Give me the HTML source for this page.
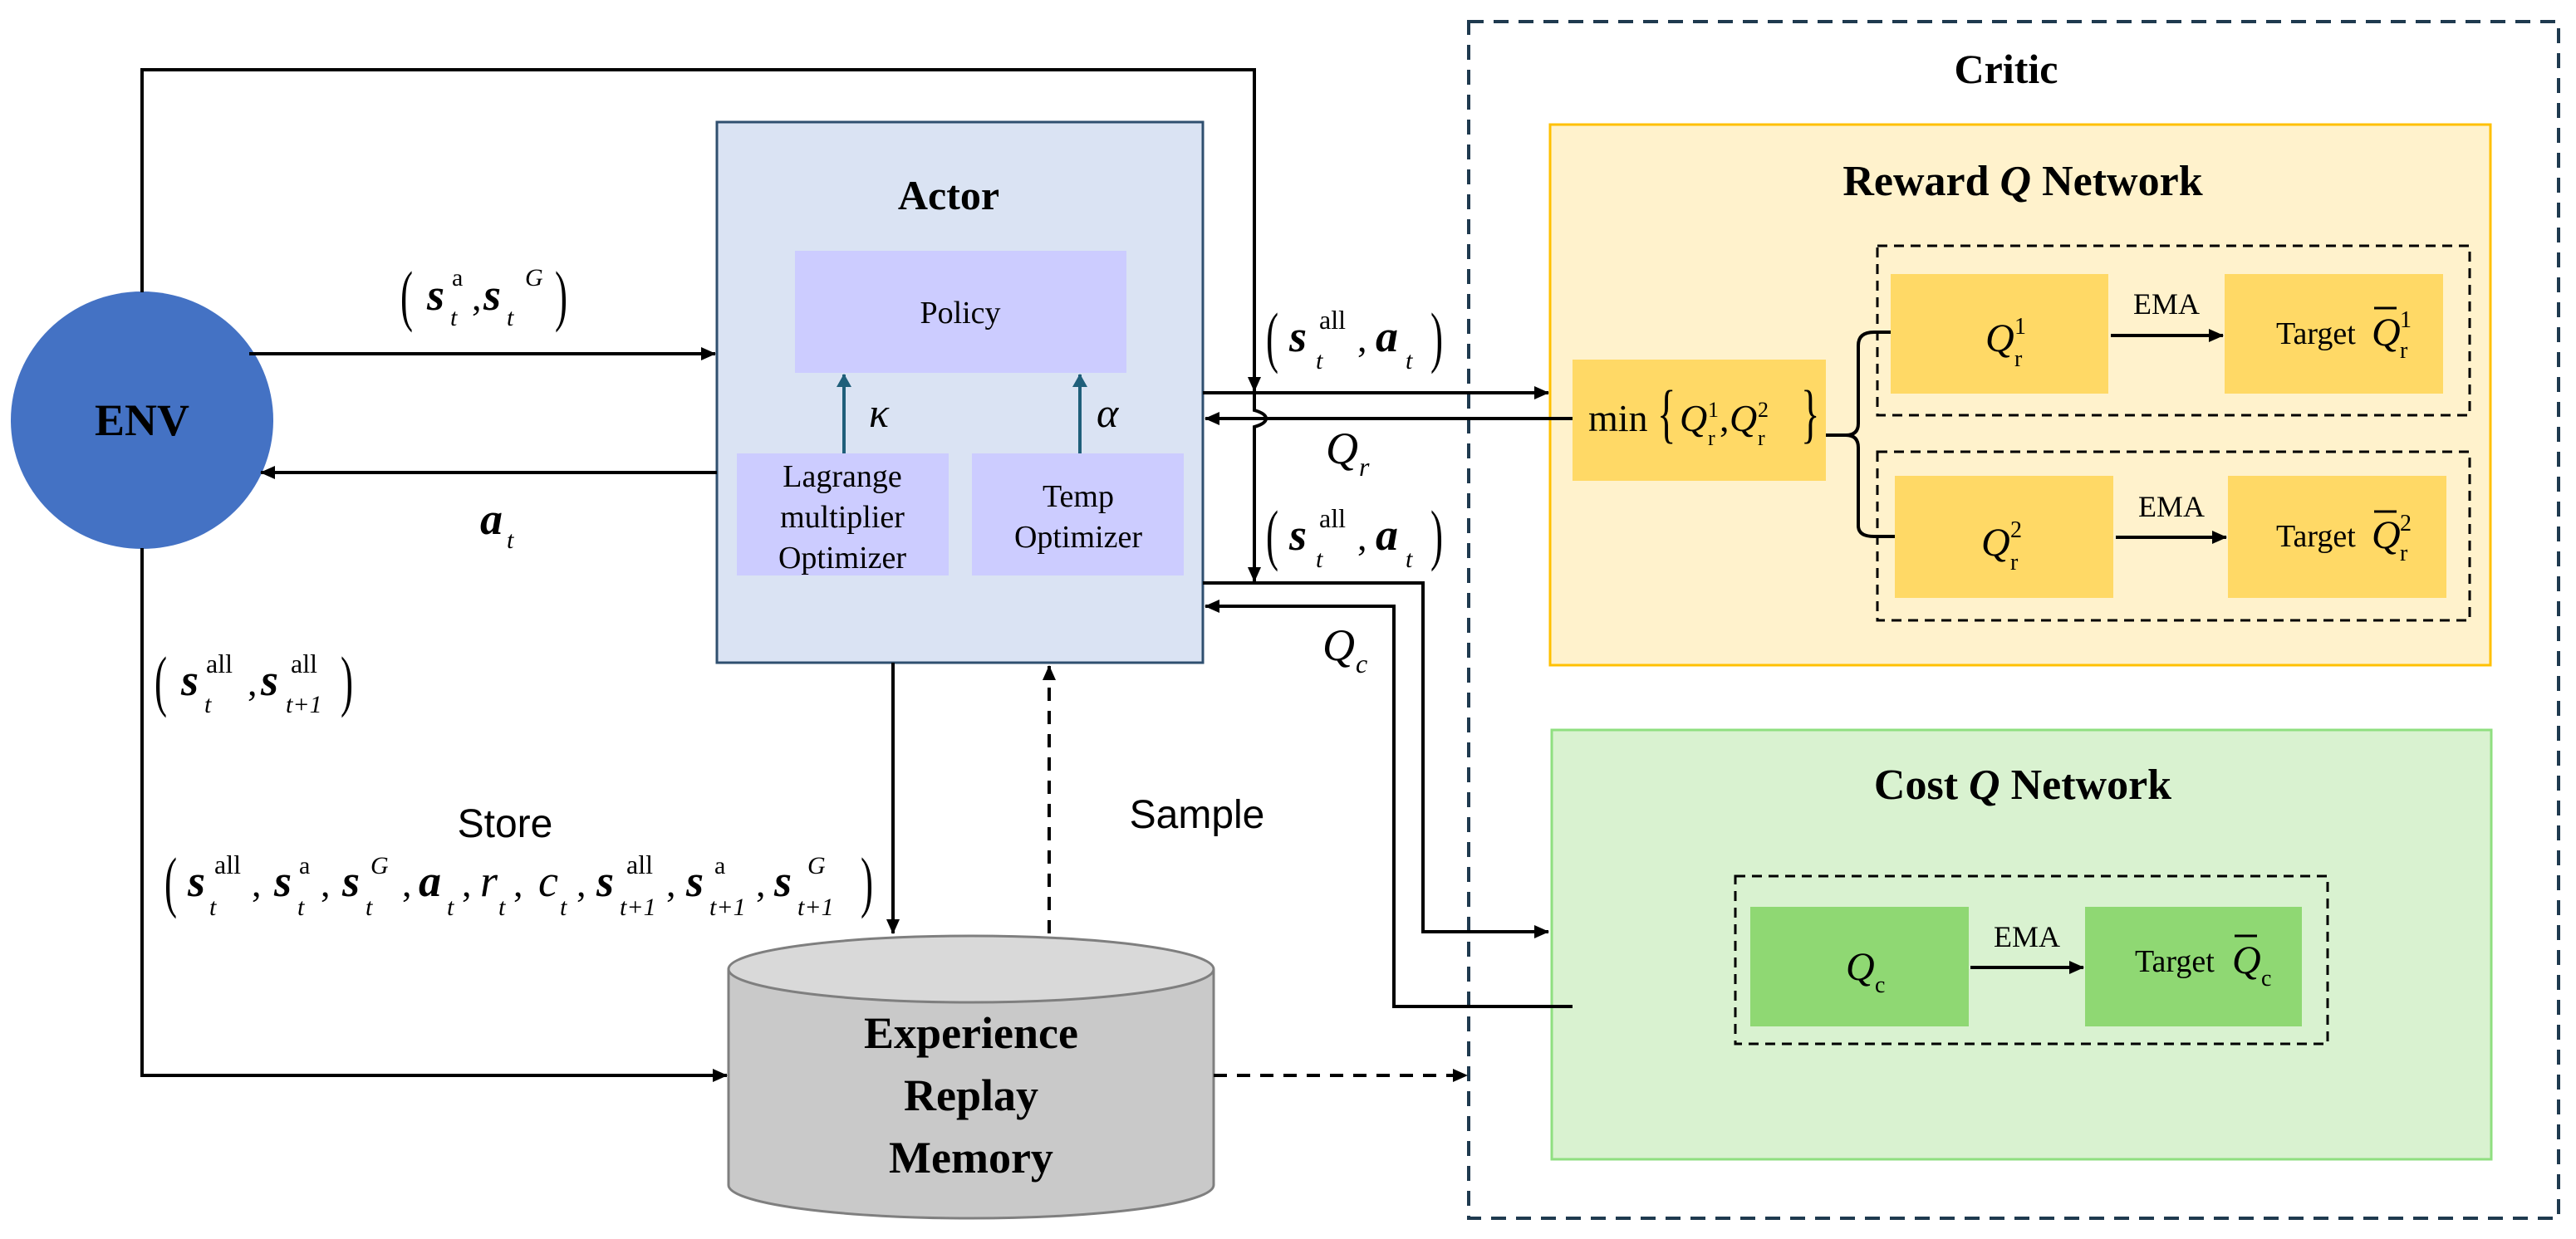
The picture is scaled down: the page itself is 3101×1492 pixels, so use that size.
<!DOCTYPE html>
<html><head><meta charset="utf-8"><style>
html,body{margin:0;padding:0;background:#fff;}
svg{display:block;}
.serif{font-family:"Liberation Serif",serif;}
.b{font-weight:bold;}
.m{font-family:"Liberation Serif",serif;font-style:italic;}
</style></head><body>
<svg width="3101" height="1492" viewBox="0 0 3101 1492" xmlns="http://www.w3.org/2000/svg">
<defs>
<marker id="arb" markerWidth="18" markerHeight="16" refX="17" refY="8" orient="auto" markerUnits="userSpaceOnUse" viewBox="0 0 18 16"><path d="M0,0 L18,8 L0,16 z" fill="#000"/></marker>
<marker id="art" markerWidth="16" markerHeight="18" refX="15" refY="9" orient="auto" markerUnits="userSpaceOnUse" viewBox="0 0 16 18"><path d="M0,0 L16,9 L0,18 z" fill="#1f5f7a"/></marker>
</defs>

<!-- Critic dashed container -->
<rect x="1768" y="26" width="1312" height="1441" fill="none" stroke="#1f3a4f" stroke-width="4" stroke-dasharray="18,12"/>
<text x="2415" y="100" text-anchor="middle" class="serif b" font-size="50">Critic</text>

<!-- Reward box -->
<rect x="1866" y="150" width="1132" height="651" fill="#fff2cc" stroke="#ffc000" stroke-width="3"/>
<text x="2435" y="235" text-anchor="middle" class="serif b" font-size="52">Reward <tspan font-style="italic">Q</tspan> Network</text>
<rect x="2260" y="296" width="713" height="204" fill="none" stroke="#000" stroke-width="3" stroke-dasharray="12,8"/>
<rect x="2260" y="544" width="713" height="203" fill="none" stroke="#000" stroke-width="3" stroke-dasharray="12,8"/>
<rect x="1893" y="433" width="305" height="146" fill="#ffd966"/>
<rect x="2276" y="330" width="262" height="144" fill="#ffd966"/>
<rect x="2678" y="330" width="263" height="144" fill="#ffd966"/>
<rect x="2281" y="573" width="263" height="147" fill="#ffd966"/>
<rect x="2682" y="573" width="263" height="147" fill="#ffd966"/>
<text x="1912" y="519" class="serif" font-size="46">min</text>
<text x="1995" y="524" class="serif" font-size="78" transform="translate(1995,524) scale(0.6,1) translate(-1995,-524)">{</text>
<text x="2022" y="519" class="m" font-size="46">Q</text><text x="2056" y="502" class="serif" font-size="26">1</text><text x="2056" y="536" class="serif" font-size="26">r</text>
<text x="2070" y="519" class="serif" font-size="46">,</text>
<text x="2082" y="519" class="m" font-size="46">Q</text><text x="2116" y="502" class="serif" font-size="26">2</text><text x="2116" y="536" class="serif" font-size="26">r</text>
<text x="2168" y="524" class="serif" font-size="78" transform="translate(2168,524) scale(0.6,1) translate(-2168,-524)">}</text>
<text x="2390" y="423" class="m" font-size="48">Q</text><text x="2425" y="402" class="serif" font-size="28">1</text><text x="2425" y="441" class="serif" font-size="28">r</text>
<text x="2740" y="414" class="serif" font-size="38">Target</text>
<text x="2855" y="416" class="m" font-size="48">Q</text><line x1="2858" y1="371" x2="2885" y2="371" stroke="#000" stroke-width="3"/><text x="2889" y="394" class="serif" font-size="28">1</text><text x="2889" y="431" class="serif" font-size="28">r</text>
<text x="2385" y="669" class="m" font-size="48">Q</text><text x="2420" y="647" class="serif" font-size="28">2</text><text x="2420" y="686" class="serif" font-size="28">r</text>
<text x="2740" y="658" class="serif" font-size="38">Target</text>
<text x="2855" y="660" class="m" font-size="48">Q</text><line x1="2858" y1="616" x2="2885" y2="616" stroke="#000" stroke-width="3"/><text x="2889" y="639" class="serif" font-size="28">2</text><text x="2889" y="675" class="serif" font-size="28">r</text>
<text x="2608" y="378" text-anchor="middle" class="serif" font-size="36">EMA</text>
<line x1="2541" y1="404" x2="2676" y2="404" stroke="#000" stroke-width="4" marker-end="url(#arb)"/>
<text x="2614" y="622" text-anchor="middle" class="serif" font-size="36">EMA</text>
<line x1="2547" y1="647" x2="2680" y2="647" stroke="#000" stroke-width="4" marker-end="url(#arb)"/>
<path d="M2198,524 H2222 Q2237,524 2237,510 V416 Q2237,400 2256,400 H2276" fill="none" stroke="#000" stroke-width="4"/>
<path d="M2222,524 Q2237,524 2237,539 V633 Q2237,646 2256,646 H2281" fill="none" stroke="#000" stroke-width="4"/>

<!-- Cost box -->
<rect x="1868" y="879" width="1131" height="517" fill="#d9f2d0" stroke="#8fdf80" stroke-width="3"/>
<text x="2435" y="962" text-anchor="middle" class="serif b" font-size="52">Cost <tspan font-style="italic">Q</tspan> Network</text>
<rect x="2089" y="1055" width="713" height="202" fill="none" stroke="#000" stroke-width="3" stroke-dasharray="12,8"/>
<rect x="2107" y="1092" width="263" height="144" fill="#8fd873"/>
<rect x="2510" y="1092" width="261" height="144" fill="#8fd873"/>
<text x="2222" y="1180" class="m" font-size="48">Q</text><text x="2257" y="1195" class="serif" font-size="28">c</text>
<text x="2570" y="1170" class="serif" font-size="38">Target</text>
<text x="2687" y="1172" class="m" font-size="48">Q</text><line x1="2690" y1="1127" x2="2717" y2="1127" stroke="#000" stroke-width="3"/><text x="2722" y="1187" class="serif" font-size="28">c</text>
<text x="2440" y="1140" text-anchor="middle" class="serif" font-size="36">EMA</text>
<line x1="2372" y1="1165" x2="2508" y2="1165" stroke="#000" stroke-width="4" marker-end="url(#arb)"/>

<!-- Actor -->
<rect x="863" y="147" width="585" height="651" fill="#dae3f3" stroke="#2f4f6f" stroke-width="3"/>
<text x="1142" y="252" text-anchor="middle" class="serif b" font-size="50">Actor</text>
<rect x="957" y="302" width="399" height="147" fill="#ccccff"/>
<text x="1156" y="389" text-anchor="middle" class="serif" font-size="38">Policy</text>
<rect x="887" y="546" width="255" height="147" fill="#ccccff"/>
<rect x="1170" y="546" width="255" height="147" fill="#ccccff"/>
<text x="1014" y="586" text-anchor="middle" class="serif" font-size="38">Lagrange</text>
<text x="1014" y="635" text-anchor="middle" class="serif" font-size="38">multiplier</text>
<text x="1014" y="684" text-anchor="middle" class="serif" font-size="38">Optimizer</text>
<text x="1298" y="610" text-anchor="middle" class="serif" font-size="38">Temp</text>
<text x="1298" y="659" text-anchor="middle" class="serif" font-size="38">Optimizer</text>
<line x1="1016" y1="546" x2="1016" y2="451" stroke="#1f5f7a" stroke-width="4" marker-end="url(#art)"/>
<line x1="1300" y1="546" x2="1300" y2="451" stroke="#1f5f7a" stroke-width="4" marker-end="url(#art)"/>
<text x="1046" y="514" class="m" font-size="50">κ</text>
<text x="1320" y="514" class="m" font-size="50">α</text>

<!-- ENV -->
<ellipse cx="171" cy="506" rx="158" ry="155" fill="#4472c4"/>
<text x="171" y="524" text-anchor="middle" class="serif b" font-size="54">ENV</text>

<!-- Cylinder -->
<path d="M877,1167 V1427 A292,40 0 0 0 1461,1427 V1167" fill="#c9c9c9" stroke="#7f7f7f" stroke-width="3"/>
<ellipse cx="1169" cy="1167" rx="292" ry="40" fill="#d9d9d9" stroke="#7f7f7f" stroke-width="3"/>
<text x="1169" y="1262" text-anchor="middle" class="serif b" font-size="54">Experience</text>
<text x="1169" y="1337" text-anchor="middle" class="serif b" font-size="54">Replay</text>
<text x="1169" y="1412" text-anchor="middle" class="serif b" font-size="54">Memory</text>

<!-- Connectors -->
<polyline points="171,352 171,84 1510,84 1510,471" fill="none" stroke="#000" stroke-width="4" marker-end="url(#arb)"/>
<path d="M1510,471 V494 Q1524,498 1524,504 Q1524,510 1510,514 V700" fill="none" stroke="#000" stroke-width="4" marker-end="url(#arb)"/>
<line x1="300" y1="426" x2="861" y2="426" stroke="#000" stroke-width="4" marker-end="url(#arb)"/>
<line x1="863" y1="569" x2="314" y2="569" stroke="#000" stroke-width="4" marker-end="url(#arb)"/>
<polyline points="171,660 171,1295 875,1295" fill="none" stroke="#000" stroke-width="4" marker-end="url(#arb)"/>
<line x1="1075" y1="798" x2="1075" y2="1124" stroke="#000" stroke-width="4" marker-end="url(#arb)"/>
<line x1="1263" y1="1124" x2="1263" y2="802" stroke="#000" stroke-width="4" stroke-dasharray="16,12" marker-end="url(#arb)"/>
<line x1="1461" y1="1295" x2="1766" y2="1295" stroke="#000" stroke-width="4" stroke-dasharray="16,12" marker-end="url(#arb)"/>
<line x1="1448" y1="473" x2="1864" y2="473" stroke="#000" stroke-width="4" marker-end="url(#arb)"/>
<line x1="1893" y1="504" x2="1451" y2="504" stroke="#000" stroke-width="4" marker-end="url(#arb)"/>
<polyline points="1448,702 1713,702 1713,1122 1864,1122" fill="none" stroke="#000" stroke-width="4" marker-end="url(#arb)"/>
<polyline points="1893,1212 1678,1212 1678,730 1451,730" fill="none" stroke="#000" stroke-width="4" marker-end="url(#arb)"/>

<!-- Labels -->
<text x="1441" y="997" text-anchor="middle" font-size="48" style="font-family:'Liberation Sans',sans-serif">Sample</text>
<text x="608" y="1008" text-anchor="middle" font-size="48" style="font-family:'Liberation Sans',sans-serif">Store</text>
<g class="serif">
<!-- (s_t^a, s_t^G) -->
<text x="482" y="383" font-size="82" transform="translate(482,383) scale(0.55,1) translate(-482,-383)">(</text>
<text x="514" y="373" class="m b" font-size="54">s</text><text x="544" y="344" font-size="30">a</text><text x="542" y="392" class="m" font-size="30">t</text>
<text x="568" y="373" font-size="46">,</text>
<text x="582" y="373" class="m b" font-size="54">s</text><text x="632" y="344" class="m" font-size="30">G</text><text x="610" y="392" class="m" font-size="30">t</text>
<text x="668" y="383" font-size="82" transform="translate(668,383) scale(0.55,1) translate(-668,-383)">)</text>
<!-- a_t -->
<text x="578" y="643" class="m b" font-size="54">a</text><text x="610" y="660" class="m" font-size="30">t</text>
<!-- (s_t^all, s_t+1^all) -->
<text x="186" y="847" font-size="82" transform="translate(186,847) scale(0.55,1) translate(-186,-847)">(</text>
<text x="218" y="837" class="m b" font-size="54">s</text><text x="248" y="810" font-size="32">all</text><text x="246" y="858" class="m" font-size="30">t</text>
<text x="298" y="837" font-size="46">,</text>
<text x="314" y="837" class="m b" font-size="54">s</text><text x="350" y="810" font-size="32">all</text><text x="344" y="858" class="m" font-size="30">t+1</text>
<text x="410" y="847" font-size="82" transform="translate(410,847) scale(0.55,1) translate(-410,-847)">)</text>
<!-- store tuple -->
<text x="198" y="1089" font-size="82" transform="translate(198,1089) scale(0.55,1) translate(-198,-1089)">(</text>
<text x="226" y="1079" class="m b" font-size="54">s</text><text x="258" y="1052" font-size="32">all</text><text x="252" y="1102" class="m" font-size="30">t</text>
<text x="303" y="1079" font-size="46">,</text>
<text x="330" y="1079" class="m b" font-size="54">s</text><text x="360" y="1052" font-size="30">a</text><text x="358" y="1102" class="m" font-size="30">t</text>
<text x="386" y="1079" font-size="46">,</text>
<text x="412" y="1079" class="m b" font-size="54">s</text><text x="446" y="1052" class="m" font-size="30">G</text><text x="440" y="1102" class="m" font-size="30">t</text>
<text x="484" y="1079" font-size="46">,</text>
<text x="504" y="1079" class="m b" font-size="54">a</text><text x="538" y="1102" class="m" font-size="30">t</text>
<text x="556" y="1079" font-size="46">,</text>
<text x="578" y="1079" class="m" font-size="54">r</text><text x="600" y="1102" class="m" font-size="30">t</text>
<text x="618" y="1079" font-size="46">,</text>
<text x="648" y="1079" class="m" font-size="54">c</text><text x="674" y="1102" class="m" font-size="30">t</text>
<text x="694" y="1079" font-size="46">,</text>
<text x="718" y="1079" class="m b" font-size="54">s</text><text x="754" y="1052" font-size="32">all</text><text x="746" y="1102" class="m" font-size="30">t+1</text>
<text x="802" y="1079" font-size="46">,</text>
<text x="826" y="1079" class="m b" font-size="54">s</text><text x="860" y="1052" font-size="30">a</text><text x="854" y="1102" class="m" font-size="30">t+1</text>
<text x="910" y="1079" font-size="46">,</text>
<text x="932" y="1079" class="m b" font-size="54">s</text><text x="972" y="1052" class="m" font-size="30">G</text><text x="960" y="1102" class="m" font-size="30">t+1</text>
<text x="1036" y="1089" font-size="82" transform="translate(1036,1089) scale(0.55,1) translate(-1036,-1089)">)</text>
<!-- (s_t^all, a_t) upper -->
<text x="1524" y="433" font-size="82" transform="translate(1524,433) scale(0.55,1) translate(-1524,-433)">(</text>
<text x="1552" y="423" class="m b" font-size="54">s</text><text x="1588" y="396" font-size="32">all</text><text x="1584" y="444" class="m" font-size="30">t</text>
<text x="1634" y="423" font-size="46">,</text>
<text x="1656" y="423" class="m b" font-size="54">a</text><text x="1692" y="444" class="m" font-size="30">t</text>
<text x="1722" y="433" font-size="82" transform="translate(1722,433) scale(0.55,1) translate(-1722,-433)">)</text>
<text x="1596" y="558" class="m" font-size="54">Q</text><text x="1636" y="573" class="m" font-size="32">r</text>
<!-- (s_t^all, a_t) lower -->
<text x="1524" y="671" font-size="82" transform="translate(1524,671) scale(0.55,1) translate(-1524,-671)">(</text>
<text x="1552" y="662" class="m b" font-size="54">s</text><text x="1588" y="635" font-size="32">all</text><text x="1584" y="683" class="m" font-size="30">t</text>
<text x="1634" y="662" font-size="46">,</text>
<text x="1656" y="662" class="m b" font-size="54">a</text><text x="1692" y="683" class="m" font-size="30">t</text>
<text x="1722" y="671" font-size="82" transform="translate(1722,671) scale(0.55,1) translate(-1722,-671)">)</text>
<text x="1592" y="795" class="m" font-size="54">Q</text><text x="1632" y="810" class="m" font-size="32">c</text>
</g>
</svg>
</body></html>
